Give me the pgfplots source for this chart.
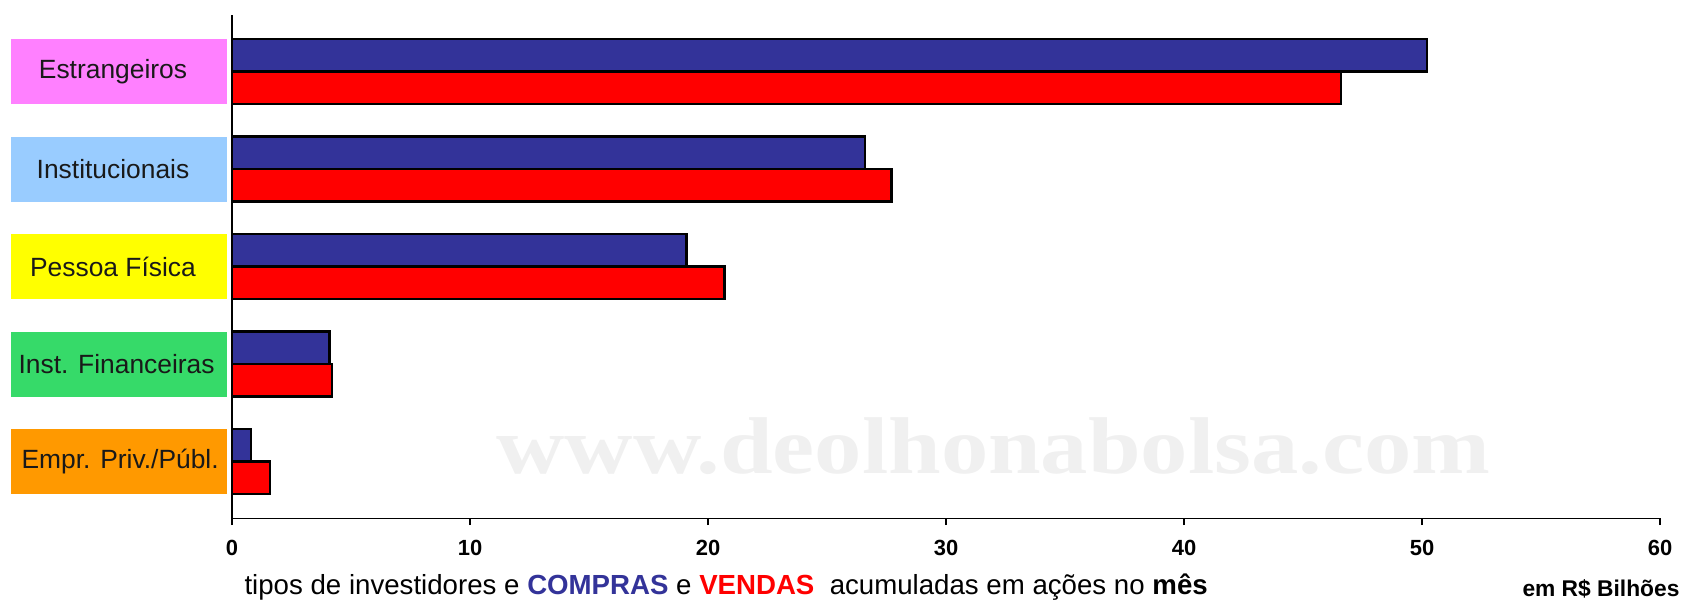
\documentclass[border=0pt]{standalone}
\usepackage{pgfplots}
\pgfplotsset{compat=1.18}
\usepackage{fontspec}
\setmainfont{Liberation Sans}
\newfontfamily\wmfont{Liberation Serif}
\definecolor{compra}{HTML}{333399}
\definecolor{venda}{HTML}{FF0000}
\definecolor{cpink}{HTML}{FF80FF}
\definecolor{cblue}{HTML}{99CCFF}
\definecolor{cyellow}{HTML}{FFFF00}
\definecolor{cgreen}{HTML}{36DA69}
\definecolor{corange}{HTML}{FF9900}
\definecolor{wm}{HTML}{F0F0F0}
\begin{document}
\begin{tikzpicture}
\useasboundingbox (0,0) rectangle (611.64pt,216pt);
\begin{axis}[
  at={(83.52pt,29.41pt)}, anchor=south west,
  scale only axis, width=514.08pt, height=181.19pt,
  xmin=0, xmax=60, ymin=-0.58, ymax=4.58,
  xbar, bar width=0.333,
  axis lines=left, axis line style={-, line width=0.5pt},
  xtick={0,10,...,60}, ytick=\empty,
  tick align=outside, major tick length=2.5pt,
  xtick style={line width=0.5pt, black},
  xticklabel style={font=\bfseries\fontsize{7.9}{9}\selectfont, yshift=-2pt},
  /pgf/number format/assume math mode=true,
  clip=false,
]
\node[text=wm, anchor=base, font=\wmfont\bfseries\fontsize{29}{30}\selectfont, xscale=1.175] at (axis cs:32.0,-0.123) {www.deolhonabolsa.com};
\addplot[fill=compra, draw=black, line width=0.9pt, bar shift=0.1667] coordinates {(50.2,4) (26.6,3) (19.1,2) (4.1,1) (0.8,0)};
\addplot[fill=venda, draw=black, line width=0.9pt, bar shift=-0.1667] coordinates {(46.6,4) (27.7,3) (20.7,2) (4.2,1) (1.6,0)};
\tikzset{catbox/.style={minimum width=77.76pt, minimum height=23.4pt, inner sep=0pt},
  cattext/.style={inner sep=0pt, font=\fontsize{9.5}{11}\selectfont, text=black!90}}
\node[catbox, fill=cpink] at (axis cs:-4.748,4) {};
\node[catbox, fill=cblue] at (axis cs:-4.748,3) {};
\node[catbox, fill=cyellow] at (axis cs:-4.748,2) {};
\node[catbox, fill=cgreen] at (axis cs:-4.748,1) {};
\node[catbox, fill=corange] at (axis cs:-4.748,0) {};
\node[cattext] at (axis cs:-5.0,4) {Estrangeiros};
\node[cattext] at (axis cs:-5.0,3) {Institucionais};
\node[cattext] at (axis cs:-5.0,2) {Pessoa Física};
\node[cattext] at (axis cs:-4.85,1) {Inst. Financeiras};
\node[cattext] at (axis cs:-4.7,0) {Empr. Priv./Públ.};
\end{axis}
\node[anchor=base west, inner sep=0pt, font=\fontsize{9.95}{11}\selectfont] at (87.84pt,1.9pt) {tipos de investidores e \textbf{\textcolor{compra}{COMPRAS}} e \textbf{\textcolor{venda}{VENDAS}}\ \ acumuladas em ações no \textbf{mês}};
\node[anchor=base east, inner sep=0pt, font=\bfseries\fontsize{8.2}{10}\selectfont] at (604.8pt,1.3pt) {em R\$ Bilhões};
\end{tikzpicture}
\end{document}
